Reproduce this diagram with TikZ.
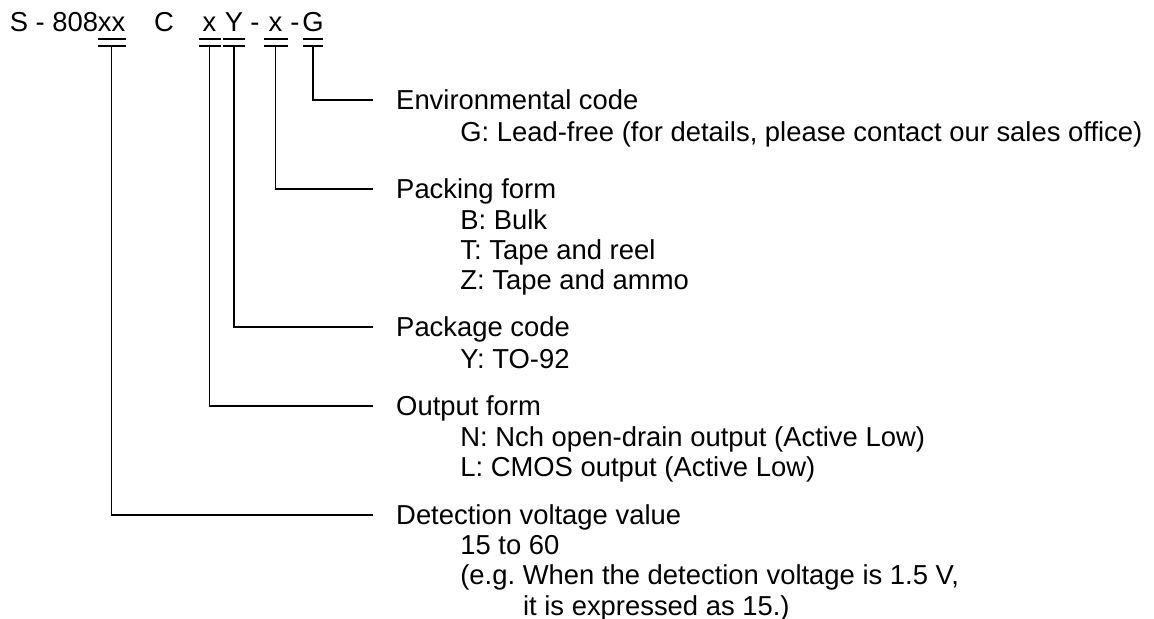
\documentclass[tikz,border=0pt]{standalone}
\usepackage{fontspec}
\setmainfont{Liberation Sans}
\usetikzlibrary{positioning}
\usetikzlibrary{calc}
\tikzset{x=0.02cm, y=-0.02cm, % One unit is one pixel of the layout, y runs downwards
every node/.style={inner sep=0pt,
font=\fontsize{15.6}{17.3}\selectfont},
code/.style={anchor=base}, % Letters of the part number
field/.style={ % Heading of a field, west anchor sits where the lead ends
anchor=west,
inner xsep=13.3pt,
text height=11.2pt,
text depth=0pt},
choices/.style={ % Values of a field, first line hangs from a strut
anchor=north west,
align=left,
execute at begin node=\strut},
lead/.style={line width=1.1pt}} % Bars and leader lines

\begin{document}
\begin{tikzpicture}
\useasboundingbox (0,0) rectangle (1154,619);
\node[code, anchor=base east] (s) at (98.5,31) {S - 808};
\node[code] (xx) at (111.5,31) {xx};
\node[code] (c) at (164,31) {C};
\node[code] (x1) at (209.5,31) {x};
\node[code] (Y) at (234,31) {Y};
\node[code] (d1) at (255,31) {-};
\node[code] (x2) at (275.5,31) {x};
\node[code] (d2) at (295,31) {-};
\node[code] (G) at (313,31) {G};
\foreach \c/\w in {xx/14, x1/11, Y/11, x2/12, G/10} {
\draw[lead] ($(\c.base)+(-\w,8.3)$) -- ++(2*\w,0);
\draw[lead] ($(\c.base)+(-\w,14.7)$) -- ++(2*\w,0);
\coordinate (\c-foot) at ($(\c.base)+(0,14.7)$);
}

\node[field] (env) at (372.5,100) {Environmental code};
\node[choices] (envval) at ($(env.south west)+(87.5,9.6)$) {G: Lead-free (for details, please contact our sales office)};
\node[field] (pack) at (372.5,189) {Packing form};
\node[choices] (packval) at ($(pack.south west)+(87.5,9.6)$) {B: Bulk\\T: Tape and reel\\Z: Tape and ammo};
\node[field] (pkg) at (372.5,327) {Package code};
\node[choices] (pkgval) at ($(pkg.south west)+(87.5,9.6)$) {Y: TO-92};
\node[field] (out) at (372.5,406) {Output form};
\node[choices] (outval) at ($(out.south west)+(87.5,9.6)$) {N: Nch open-drain output (Active Low)\\L: CMOS output (Active Low)};
\node[field] (det) at (372.5,515) {Detection voltage value};
\node[choices] (detval) at ($(det.south west)+(87.5,9.6)$) {15 to 60\\(e.g.\ When the detection voltage is 1.5 V,\\\hspace*{35.7pt}it is expressed as 15.)};

\draw[lead] (G-foot) |- (env.west);
\draw[lead] (x2-foot) |- (pack.west);
\draw[lead] (Y-foot) |- (pkg.west);
\draw[lead] (x1-foot) |- (out.west);
\draw[lead] (xx-foot) |- (det.west);
\end{tikzpicture}
\end{document}
